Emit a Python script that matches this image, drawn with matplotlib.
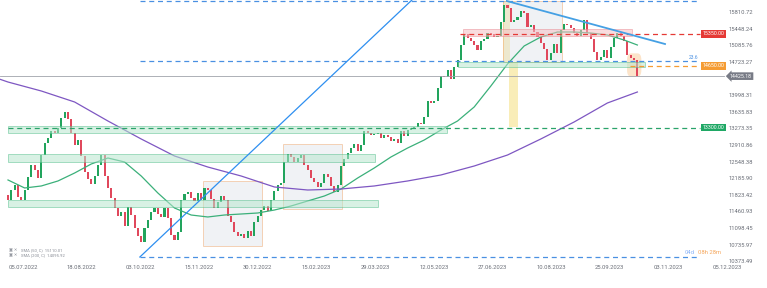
import numpy as np
import matplotlib
matplotlib.use("Agg")
import matplotlib.pyplot as plt
from matplotlib.patches import Rectangle, FancyBboxPatch
from matplotlib.transforms import blended_transform_factory

plt.rcParams['font.family'] = ['Roboto', 'DejaVu Sans']

# ---------------- data ----------------
first_open = 11830
closes = [
    11721, 11939, 12048, 11786, 11721, 11939, 12223, 12485, 12376, 12201,
    12703, 12965, 13075, 13227, 13184, 13293, 13511, 13642, 13490, 13184,
    12922, 13031, 12682, 12332, 12179, 12070, 12245, 12485, 12703, 12245,
    11983, 11764, 11546, 11371, 11459, 11153, 11568, 11393, 11109, 10935,
    10804, 11109, 11284, 11459, 11546, 11415, 11350, 11546, 11328, 10957,
    10847, 11022, 11721, 11852, 11895, 11764, 11699, 11874, 11721, 11983,
    11939, 11743, 11546, 11677, 11808, 11721, 11371, 11240, 11022, 10935,
    10978, 10891, 11044, 10935, 11240, 11371, 11502, 11590, 11481, 11721,
    11917, 12048, 12092, 12551, 12725, 12660, 12551, 12638, 12703, 12485,
    12376, 12201, 12114, 12005, 12092, 12289, 12223, 12027, 11895, 12048,
    12463, 12616, 12747, 12856, 12944, 12791, 12922, 13227, 13184, 13140,
    13162, 13184, 13075, 13140, 13096, 13009, 13053, 12965, 13227, 13118,
    13249, 13293, 13315, 13402, 13380, 13533, 13883, 13839, 13883, 14166,
    14428, 14407, 14559, 14363, 14625, 14778, 15105, 15346, 15258, 15193,
    15105, 14996, 15193, 15236, 15367, 15346, 15280, 15302, 15608, 15979,
    15913, 15608, 15651, 15717, 15848, 15804, 15498, 15542, 15389, 15280,
    15149, 15018, 14778, 14931, 15127, 14931, 15433, 15564, 15542, 15477,
    15367, 15302, 15433, 15651, 15367, 15236, 14953, 14778, 14843, 14996,
    14822, 15062, 15258, 15367, 15302, 15193, 14887, 14822, 14778, 14425,
]

sma50_bars = list(range(0, 186, 5)) + [189]
sma50_vals = [12158, 11983, 12027, 12136, 12310, 12507, 12638, 12551, 12245, 11874,
              11546, 11393, 11350, 11393, 11415, 11437, 11502, 11590, 11699, 11808,
              11961, 12201, 12420, 12660, 12856, 13031, 13249, 13446, 13752, 14210,
              14690, 15084, 15280, 15389, 15389, 15367, 15324, 15215, 15105]

sma200_bars = list(range(0, 181, 10)) + [189]
sma200_vals = [14297, 14101, 13861, 13446, 13053, 12682, 12441, 12245, 12005, 11939,
               11961, 12027, 12136, 12267, 12463, 12703, 13053, 13424, 13839, 14079]

date_labels = ["05.07.2022", "18.08.2022", "03.10.2022", "15.11.2022", "30.12.2022",
               "15.02.2023", "29.03.2023", "12.05.2023", "27.06.2023", "10.08.2023",
               "25.09.2023", "03.11.2023", "05.12.2023"]
price_ticks = [15810.72, 15448.24, 15085.76, 14723.27, 13998.31, 13635.83, 13273.35,
               12910.86, 12548.38, 12185.90, 11823.42, 11460.93, 11098.45, 10735.97,
               10373.49]

fib_low, fib_high = 10476, 16066
fib_236 = fib_high - 0.236 * (fib_high - fib_low)
resist_level = 15350.00
support_level = 14650.00
green_level = 13300.00
last_price = 14425.18
sma50_last = 15110.01
sma200_last = 14095.92

# zones: (bar_start, bar_end, low, high)
green_zones = [(0, 131.8, 13185, 13337), (0, 110.2, 12557, 12725),
               (0, 111.1, 11561, 11721), (135.1, 191.3, 14632, 14741)]
red_zone = (136.6, 187.4, 15309, 15448)
grey_boxes = [(58.6, 76.3, 10716, 12136), (82.6, 100.3, 11524, 12944),
              (148.6, 166.4, 14734, 16060)]
yellow_boxes = [(148.6, 150.8, 14734, 16060), (150.5, 153.2, 13315, 14734)]
up_line = ([39.6, 121.3], [fib_low, 16088])
down_line = ([149.8, 197.3], [16066, 15127])

# ---------------- figure ----------------
W, H = 767, 288
fig = plt.figure(figsize=(W / 100, H / 100), dpi=100)
fig.patch.set_facecolor('white')
ax = fig.add_axes([0, 1 - 263 / H, 1, 263 / H])
ax.set_facecolor('white')
x0 = -8 / 3.33
x1 = (W - 8) / 3.33
ax.set_xlim(x0, x1)
ax.set_ylim(10345, 16088)
for s in ax.spines.values():
    s.set_visible(False)

def bx(px):
    return (px - 8) / 3.33

closes_a = np.array(closes, dtype=float)
opens_a = np.r_[first_open, closes_a[:-1]]
idx = np.arange(len(closes_a))
up = closes_a >= opens_a
cols = np.where(up, '#22a45d', '#e0485c')
body = closes_a - opens_a
ax.bar(idx, body, bottom=opens_a, width=0.62, color=cols, linewidth=0, zorder=3)

# moving averages
ax.plot(sma50_bars, sma50_vals, color='#3bb07a', lw=0.9, zorder=4)
ax.plot([x0] + sma200_bars, [sma200_vals[0] + 60] + sma200_vals, color='#7e57c2', lw=0.9, zorder=4)

# zones
for (a, b, lo, hi) in green_zones:
    ax.add_patch(Rectangle((a, lo), b - a, hi - lo, facecolor='#b9e6cf', alpha=0.55,
                           edgecolor='#4cbb87', lw=0.6, zorder=5))
a, b, lo, hi = red_zone
ax.add_patch(Rectangle((a, lo), b - a, hi - lo, facecolor='#f5c0c4', alpha=0.55,
                       edgecolor='#e8868e', lw=0.6, zorder=5))
for (a, b, lo, hi) in grey_boxes:
    ax.add_patch(Rectangle((a, lo), b - a, hi - lo, facecolor='#dfe4ea', alpha=0.45,
                           edgecolor='#f0a060', lw=0.7, zorder=2))
for (a, b, lo, hi) in yellow_boxes:
    ax.add_patch(Rectangle((a, lo), b - a, hi - lo, facecolor='#f8e7a0', alpha=0.75,
                           edgecolor='none', zorder=1.5))

# highlight of the last candles
ax.add_patch(FancyBboxPatch((186.2, 14450), 3.7, 437, boxstyle='round,pad=0.3,rounding_size=1.2',
                            facecolor='#f7b267', alpha=0.35, edgecolor='none', zorder=2,
                            mutation_aspect=120))

# fibonacci / levels
xe = bx(700)
for lvl in (fib_high, fib_low, fib_236):
    ax.plot([bx(140), xe], [lvl, lvl], color='#4a90e2', lw=0.9, ls=(0, (4, 3)), zorder=6)
ax.plot([bx(460), xe], [resist_level] * 2, color='#e53935', lw=0.9, ls=(0, (4, 3)), zorder=6)
ax.plot([bx(630), xe], [support_level] * 2, color='#f59c34', lw=0.9, ls=(0, (4, 3)), zorder=6)
ax.plot([0, xe], [green_level] * 2, color='#2aa36a', lw=0.9, ls=(0, (4, 3)), zorder=6)
ax.plot([x0, bx(724)], [last_price] * 2, color='#a0a3ab', lw=0.6, zorder=6)

# trend lines
ax.plot(*up_line, color='#2e8ff0', lw=0.9, zorder=6)
ax.plot(*down_line, color='#45a0e4', lw=1.3, zorder=6)

# price axis text
tb = blended_transform_factory(ax.transAxes, ax.transData)
for v in price_ticks:
    ax.text(729 / W, v, f"{v:.2f}", transform=tb, ha='left', va='center',
            fontsize=4.2, color='#6b6f78', zorder=8)

def label(val, fc, xc):
    ax.text(xc / W, val, f"{val:.2f}", transform=tb, ha='center', va='center',
            fontsize=3.8, color='white', zorder=9,
            bbox=dict(boxstyle='square,pad=0.25', fc=fc, ec='none'))

label(resist_level, '#e53935', 713.5)
label(support_level, '#f59c34', 713.5)
label(green_level, '#1fa865', 713.5)
ax.text(741 / W, last_price, f"{last_price:.2f}", transform=tb, ha='center', va='center',
        fontsize=3.8, color='white', zorder=9,
        bbox=dict(boxstyle='larrow,pad=0.25', fc='#787b86', ec='none'))

ax.text(bx(694), 14843, "23.6", ha='center', va='center', fontsize=3.5, color='#4a90e2', zorder=8)
ax.text(bx(685), 10585, "04d", ha='left', va='center', fontsize=4.2, color='#8ab4f8', zorder=8)
ax.text(bx(698), 10585, "08h 28m", ha='left', va='center', fontsize=4.2, color='#f5a65b', zorder=8)

# date axis
tick_pos = [4.5 + 17.62 * k for k in range(len(date_labels))]
ax.set_xticks(tick_pos)
ax.set_xticklabels(date_labels, fontsize=4.2, color='#6b6f78')
ax.tick_params(axis='x', length=0, pad=1.2)
ax.tick_params(axis='y', left=False, labelleft=False)

# legend
fig.text(9 / W, 1 - 250 / H, "\u25a3 \u2715", fontsize=3, color='#8a8e97', va='center')
fig.text(21 / W, 1 - 250 / H, f"SMA (50, C)  {sma50_last:.2f}", fontsize=3, color='#8a8e97', va='center')
fig.text(9 / W, 1 - 255.5 / H, "\u25a3 \u2715", fontsize=3, color='#8a8e97', va='center')
fig.text(21 / W, 1 - 255.5 / H, f"SMA (200, C)  {sma200_last:.2f}", fontsize=3, color='#8a8e97', va='center')

fig.savefig('out.png', dpi=100, facecolor='white')
